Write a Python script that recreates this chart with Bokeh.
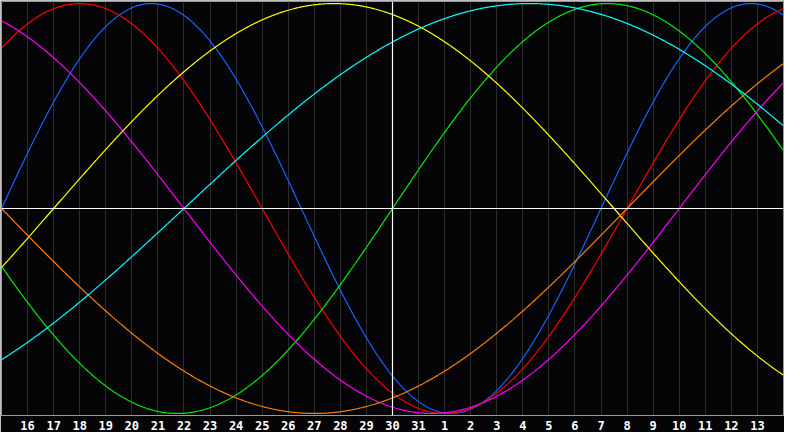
import numpy as np
from bokeh.plotting import figure
from bokeh.models import FixedTicker, Span
from bokeh.embed import file_html
from bokeh.resources import INLINE

# days along the bottom: 15th of one month up to the 14th of the next
day_labels = ["16", "17", "18", "19", "20", "21", "22", "23", "24", "25", "26",
              "27", "28", "29", "30", "31", "1", "2", "3", "4", "5", "6", "7",
              "8", "9", "10", "11", "12", "13"]
span_days = 30
today = 15  # the 30th, marked by the white line

# biorhythm cycles: length in days, and how far into the cycle the chart starts
cycle_days = [23, 28, 33, 38, 43, 48, 53]
start_offset = [0, 4, 18, 12, 41, 24, 46]
cycle_colors = ["#1464ff", "#ff0000", "#00f000", "#ff00ff", "#ffff00", "#ff8000", "#00ffff"]

bg = "#050407"
p = figure(width=784, height=432, x_range=(0, span_days), y_range=(-1.01, 1.01),
           y_axis_location=None, toolbar_location=None, output_backend="svg",
           background_fill_color=bg, border_fill_color=bg,
           outline_line_color="#9a9a9a", outline_line_width=1,
           min_border_left=1, min_border_right=1, min_border_top=1, min_border_bottom=0)

# x axis: one tick per day, labels only
ticks = list(range(1, len(day_labels) + 1))
p.xaxis.ticker = FixedTicker(ticks=ticks)
p.xaxis.major_label_overrides = {t: lab for t, lab in zip(ticks, day_labels)}
p.xaxis.major_tick_in = 0
p.xaxis.major_tick_out = 0
p.xaxis.minor_tick_line_color = None
p.xaxis.axis_line_color = "#9a9a9a"
p.xaxis.major_label_standoff = 5
p.xaxis.major_label_text_color = "white"
p.xaxis.major_label_text_font = "DejaVu Sans Mono"
p.xaxis.major_label_text_font_style = "bold"
p.xaxis.major_label_text_font_size = "12px"

p.xgrid.grid_line_color = "#2c2c2c"
p.xgrid.grid_line_width = 1
p.ygrid.grid_line_color = None

# zero line and today line
p.add_layout(Span(location=0, dimension="width", line_color="white", line_width=1.2))
p.add_layout(Span(location=today, dimension="height", line_color="white", line_width=1.2))

t = np.linspace(0, span_days, 901)
for days, off, col in zip(cycle_days, start_offset, cycle_colors):
    y = np.sin(2 * np.pi * (t + off) / days)
    p.line(t, y, line_color=col, line_width=1.2)

open("out.html", "w").write(file_html(p, INLINE))
